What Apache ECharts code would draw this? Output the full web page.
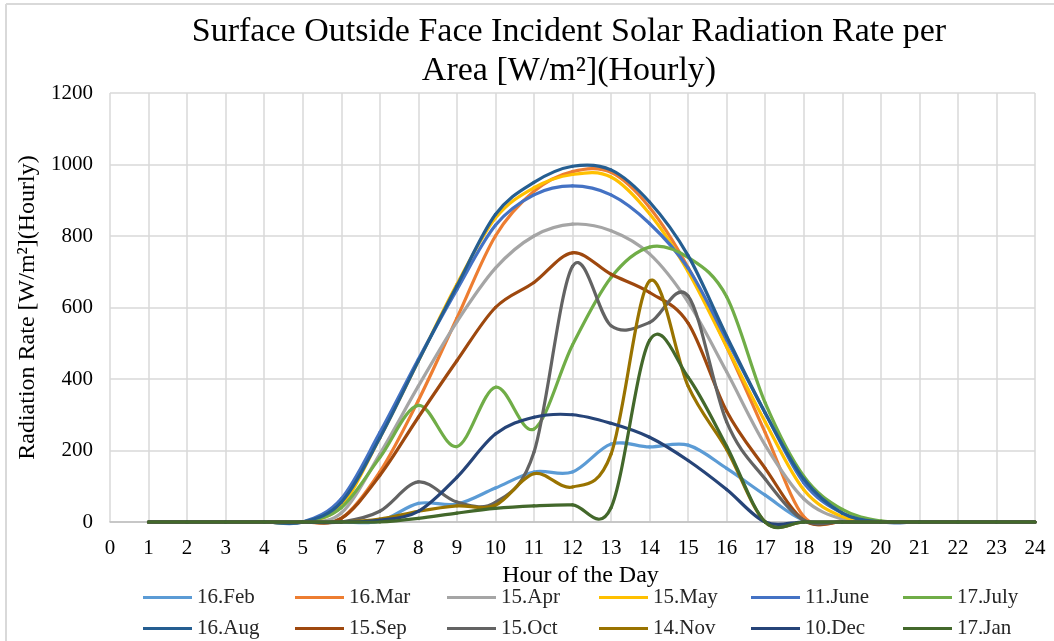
<!DOCTYPE html>
<html>
<head>
<meta charset="utf-8">
<style>
  html, body { margin: 0; padding: 0; background: #fff; }
  #chart { width: 1054px; height: 641px; }
</style>
<script src="https://cdn.jsdelivr.net/npm/echarts@6/dist/echarts.min.js"></script>
</head>
<body>
<div id="chart"></div>
<script>
// Hours of the day that carry a reading
const hours = [1,2,3,4,5,6,7,8,9,10,11,12,13,14,15,16,17,18,19,20,21,22,23,24];

// Incident solar radiation per area [W/m²] for each sampled day, hour 1..24
const feb  = [0,0,0,0,0,0,2,52,50,95,140,140,218,210,215,150,75,5,0,0,0,0,0,0];
const mar  = [0,0,0,0,0,10,140,340,570,800,925,980,978,880,712,490,250,15,0,0,0,0,0,0];
const apr  = [0,0,0,0,0,25,190,380,560,710,800,833,815,750,615,420,215,65,8,0,0,0,0,0];
const may  = [0,0,0,0,0,45,235,450,665,850,935,972,965,862,700,490,280,90,15,0,0,0,0,0];
const june = [0,0,0,0,0,65,250,455,650,830,915,940,915,835,710,510,305,110,25,0,0,0,0,0];
const july = [0,0,0,0,0,40,180,326,211,377,260,495,684,769,740,630,333,128,35,3,0,0,0,0];
const aug  = [0,0,0,0,0,55,235,450,660,860,950,995,985,895,745,520,305,120,25,0,0,0,0,0];
const sep  = [0,0,0,0,0,10,130,293,451,600,670,753,693,642,556,310,150,5,0,0,0,0,0,0];
const oct  = [0,0,0,0,0,0,30,112,56,55,195,715,549,558,632,280,120,5,0,0,0,0,0,0];
const nov  = [0,0,0,0,0,0,8,30,45,47,135,98,190,674,380,203,0,0,0,0,0,0,0,0];
const dec  = [0,0,0,0,0,0,5,30,125,246,293,300,276,237,172,91,0,0,0,0,0,0,0,0];
const jan  = [0,0,0,0,0,0,0,10,25,38,45,48,40,508,405,212,0,0,0,0,0,0,0,0];

const seriesNames = ['16.Feb','16.Mar','15.Apr','15.May','11.June','17.July',
                     '16.Aug','15.Sep','15.Oct','14.Nov','10.Dec','17.Jan'];
const seriesValues = [feb, mar, apr, may, june, july, aug, sep, oct, nov, dec, jan];
const seriesColors = ['#5B9BD5','#ED7D31','#A5A5A5','#FFC000','#4472C4','#70AD47',
                      '#255E91','#9E480E','#636363','#997300','#264478','#43682B'];

const serif = '"Liberation Serif", "DejaVu Serif", serif';

const chart = echarts.init(document.getElementById('chart'));

// One legend entry per slot, six slots per row
const legends = seriesNames.map((name, i) => ({
  left: 138 + 152 * (i % 6),
  top: i < 6 ? 582 : 613,
  itemWidth: 49,
  itemHeight: 3,
  icon: 'rect',
  data: [name],
  textStyle: { fontFamily: serif, fontSize: 21, color: '#262626' }
}));

// Cardinal (Catmull-Rom) spline through the points, built from bezier segments
function smoothCurve(values, color) {
  return function (params, api) {
    if (params.dataIndex !== 0) return null;
    const pts = hours.map((h, k) => api.coord([h, values[k]]));
    const n = pts.length;
    const children = [];
    for (let k = 0; k < n - 1; k++) {
      const p0 = pts[Math.max(k - 1, 0)];
      const p1 = pts[k];
      const p2 = pts[k + 1];
      const p3 = pts[Math.min(k + 2, n - 1)];
      children.push({
        type: 'bezierCurve',
        shape: {
          x1: p1[0], y1: p1[1],
          x2: p2[0], y2: p2[1],
          cpx1: p1[0] + (p2[0] - p0[0]) / 6,
          cpy1: p1[1] + (p2[1] - p0[1]) / 6,
          cpx2: p2[0] - (p3[0] - p1[0]) / 6,
          cpy2: p2[1] - (p3[1] - p1[1]) / 6
        },
        style: { stroke: color, lineWidth: 3.2, fill: null, lineCap: 'round' }
      });
    }
    return { type: 'group', children: children };
  };
}

chart.setOption({
  backgroundColor: '#fff',
  animation: false,
  title: {
    text: 'Surface Outside Face Incident Solar Radiation Rate per\nArea [W/m²](Hourly)',
    left: 569,
    textAlign: 'center',
    top: 13,
    padding: 0,
    textStyle: { fontFamily: serif, fontSize: 34, fontWeight: 'normal', color: '#000', lineHeight: 39 }
  },
  legend: legends,
  graphic: [
    { type: 'line', shape: { x1: 6, y1: 4, x2: 6, y2: 641 }, style: { stroke: '#d9d9d9', lineWidth: 2 } },
    { type: 'line', shape: { x1: 6, y1: 4, x2: 1054, y2: 4 }, style: { stroke: '#d9d9d9', lineWidth: 2 } }
  ],
  grid: { left: 110, right: 19, top: 93, bottom: 119 },
  xAxis: {
    type: 'value',
    min: 0, max: 24, interval: 1,
    name: 'Hour of the Day',
    nameLocation: 'middle',
    nameGap: 38,
    nameTextStyle: { fontFamily: serif, fontSize: 24, color: '#000', padding: [0, 0, 0, 16] },
    axisLine: { show: true, lineStyle: { color: '#bfbfbf', width: 1.5 } },
    axisTick: { show: false },
    axisLabel: { fontFamily: serif, fontSize: 21, color: '#000', margin: 16 },
    splitLine: { show: true, lineStyle: { color: '#d9d9d9', width: 1.5 } }
  },
  yAxis: {
    type: 'value',
    min: 0, max: 1200, interval: 200,
    name: 'Radiation Rate [W/m²](Hourly)',
    nameLocation: 'middle',
    nameGap: 61,
    nameTextStyle: { fontFamily: serif, fontSize: 24, color: '#000' },
    axisLine: { show: false },
    axisTick: { show: false },
    axisLabel: { fontFamily: serif, fontSize: 21, color: '#000', margin: 17, formatter: v => String(v) },
    splitLine: { show: true, lineStyle: { color: '#d9d9d9', width: 1.5 } }
  },
  series: seriesNames.map((name, i) => ({
    name: name,
    type: 'custom',
    coordinateSystem: 'cartesian2d',
    encode: { x: 0, y: 1 },
    itemStyle: { color: seriesColors[i] },
    renderItem: smoothCurve(seriesValues[i], seriesColors[i]),
    data: hours.map((h, k) => [h, seriesValues[i][k]])
  }))
});
</script>
</body>
</html>
